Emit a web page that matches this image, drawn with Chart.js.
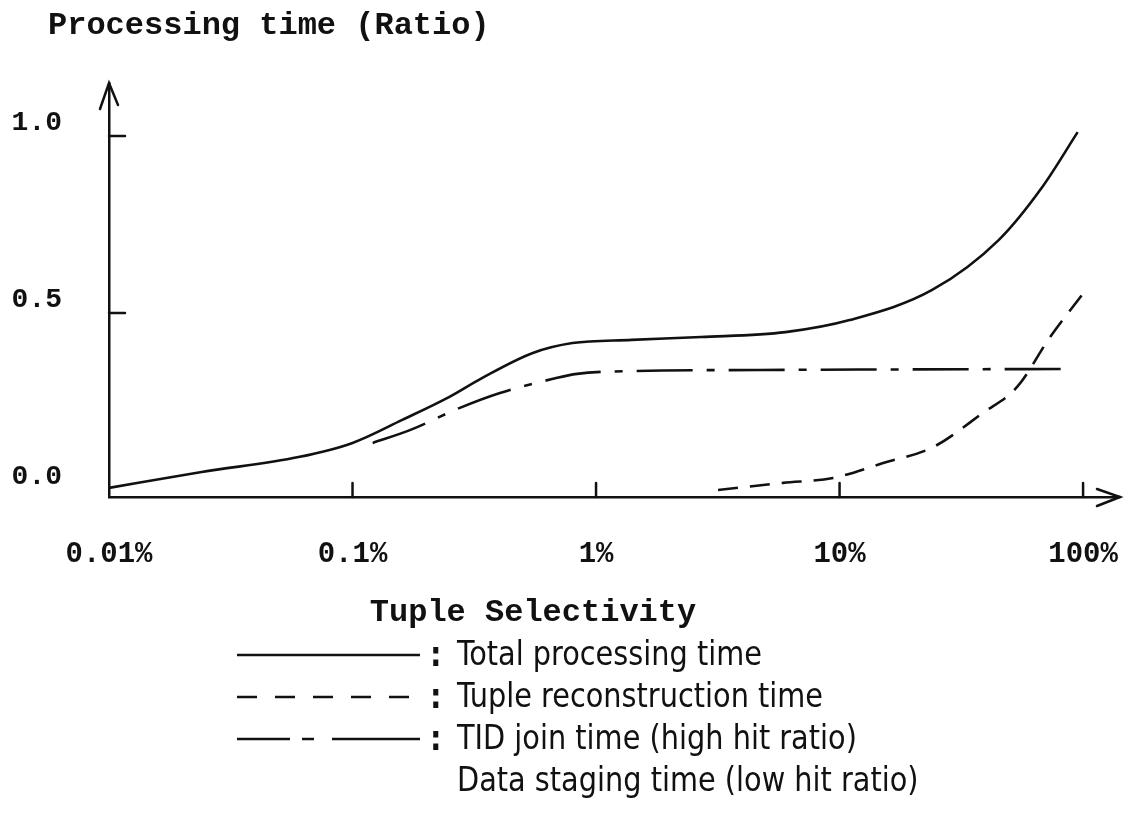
<!DOCTYPE html>
<html>
<head>
<meta charset="utf-8">
<script src="https://cdn.jsdelivr.net/npm/chart.js@4.4.1/dist/chart.umd.min.js"></script>
<style>
  html, body { margin: 0; padding: 0; background: #fff; }
  #wrap { width: 1125px; height: 826px; }
</style>
</head>
<body>
<div id="wrap"><canvas id="c" width="1125" height="826"></canvas></div>
<script>
// ---- data (x = tuple selectivity in %, y = processing time ratio) ----
const totalX = [0.01, 0.024, 0.06, 0.1, 0.16, 0.25, 0.34, 0.55, 0.8, 1.4, 2.7, 6, 11, 24, 45, 68, 95];
const totalY = [0.006, 0.051, 0.093, 0.133, 0.198, 0.263, 0.316, 0.387, 0.415, 0.424, 0.432, 0.446, 0.480, 0.565, 0.706, 0.856, 1.011];

const tidX = [0.121, 0.172, 0.276, 0.403, 0.666, 0.835, 1.42, 4.7, 88.5];
const tidY = [0.133, 0.169, 0.232, 0.274, 0.314, 0.328, 0.336, 0.339, 0.342];

const reconX = [3.17, 5.86, 9.4, 15.1, 24.2, 38.8, 53.6, 73.2, 99];
const reconY = [0.0, 0.02, 0.034, 0.076, 0.121, 0.218, 0.291, 0.432, 0.551];

const xTicks = [0.01, 0.1, 1, 10, 100];
const xTickLabels = ['0.01%', '0.1%', '1%', '10%', '100%'];
const yTicks = [0, 0.5, 1.0];
const yTickLabels = ['0.0', '0.5', '1.0'];

const yTitle = 'Processing time (Ratio)';
const xTitle = 'Tuple Selectivity';
const legendLabels = [
  'Total processing time',
  'Tuple reconstruction time',
  'TID join time (high hit ratio)',
  'Data staging time (low hit ratio)'
];

const pts = (xs, ys) => xs.map((x, i) => ({ x: x, y: ys[i] }));

const MONO = '"Liberation Mono", "DejaVu Sans Mono", monospace';
const NARROW = '"DejaVu Sans Condensed", "Liberation Sans Narrow", "DejaVu Sans", sans-serif';

const dashTotal = [];
const dashRecon = [20, 12];
const dashTid = [56, 14, 8, 14];

const decor = {
  id: 'decor',
  afterDraw(chart) {
    const ctx = chart.ctx;
    const a = chart.chartArea;
    const xs = chart.scales.x, ys = chart.scales.y;
    ctx.save();
    ctx.strokeStyle = '#111';
    ctx.fillStyle = '#111';
    ctx.lineWidth = 2.5;
    ctx.lineCap = 'round';
    // inward y ticks
    [0.5, 1.0].forEach(v => {
      const py = ys.getPixelForValue(v);
      ctx.beginPath(); ctx.moveTo(a.left, py); ctx.lineTo(a.left + 16, py); ctx.stroke();
    });
    // upward x ticks
    [0.1, 1, 10, 100].forEach(v => {
      const px = xs.getPixelForValue(v);
      ctx.beginPath(); ctx.moveTo(px, a.bottom); ctx.lineTo(px, a.bottom - 14); ctx.stroke();
    });
    // y arrow
    ctx.beginPath();
    ctx.moveTo(a.left - 9, a.top + 26); ctx.lineTo(a.left, a.top); ctx.lineTo(a.left + 9, a.top + 22);
    ctx.stroke();
    // x arrow
    ctx.beginPath();
    ctx.moveTo(a.right, a.bottom); ctx.lineTo(a.right + 7, a.bottom); ctx.stroke();
    ctx.beginPath();
    ctx.moveTo(a.right - 16, a.bottom - 8); ctx.lineTo(a.right + 7, a.bottom); ctx.lineTo(a.right - 16, a.bottom + 9);
    ctx.stroke();

    // titles
    ctx.textBaseline = 'middle';
    ctx.textAlign = 'left';
    ctx.font = 'bold 32px ' + MONO;
    ctx.fillText(yTitle, 48, 26);
    ctx.textAlign = 'center';
    ctx.fillText(xTitle, 533, 613);

    // legend
    const rows = [655, 697, 739, 781];
    const lx0 = 237, lx1 = 420;
    ctx.lineWidth = 2.5;
    ctx.lineCap = 'butt';
    ctx.setLineDash(dashTotal);
    ctx.beginPath(); ctx.moveTo(lx0, rows[0]); ctx.lineTo(lx1, rows[0]); ctx.stroke();
    ctx.setLineDash([20, 18]);
    ctx.beginPath(); ctx.moveTo(lx0, rows[1]); ctx.lineTo(lx1, rows[1]); ctx.stroke();
    ctx.setLineDash([53, 12, 12, 18, 90]);
    ctx.beginPath(); ctx.moveTo(lx0, rows[2]); ctx.lineTo(lx1, rows[2]); ctx.stroke();
    ctx.setLineDash([]);

    ctx.textAlign = 'left';
    ctx.font = '34px ' + NARROW;
    const sx = 305 / ctx.measureText(legendLabels[0]).width;
    for (let i = 0; i < 4; i++) {
      if (i < 3) {
        ctx.save(); ctx.translate(430, rows[i] + 2); ctx.scale(sx, 1);
        ctx.font = 'bold 34px ' + NARROW;
        ctx.fillText(':', 0, 0); ctx.restore();
      }
      ctx.save();
      ctx.translate(457, rows[i] + 1);
      ctx.scale(sx, 1);
      ctx.fillText(legendLabels[i], 0, 0);
      ctx.restore();
    }
    ctx.restore();
  }
};

new Chart(document.getElementById('c'), {
  type: 'line',
  data: {
    datasets: [
      { label: legendLabels[0], data: pts(totalX, totalY), borderColor: '#111', borderWidth: 2.6,
        borderDash: dashTotal, pointRadius: 0, cubicInterpolationMode: 'monotone', fill: false },
      { label: legendLabels[1], data: pts(reconX, reconY), borderColor: '#111', borderWidth: 2.6,
        borderDash: dashRecon, pointRadius: 0, cubicInterpolationMode: 'monotone', fill: false },
      { label: legendLabels[2], data: pts(tidX, tidY), borderColor: '#111', borderWidth: 2.6,
        borderDash: dashTid, pointRadius: 0, cubicInterpolationMode: 'monotone', fill: false }
    ]
  },
  options: {
    responsive: false,
    devicePixelRatio: 1,
    animation: false,
    layout: { padding: { top: 83, right: 12, left: 0, bottom: 0 } },
    plugins: { legend: { display: false }, tooltip: { enabled: false }, title: { display: false } },
    scales: {
      x: {
        type: 'logarithmic',
        min: 0.01,
        max: 132.7,
        afterBuildTicks: s => { s.ticks = xTicks.map(v => ({ value: v })); },
        afterFit: s => { s.height = 329; s.paddingLeft = 0; s.paddingRight = 0; },
        grid: { display: true, drawOnChartArea: false, drawTicks: false },
        border: { display: true, color: '#111', width: 2.5 },
        ticks: {
          autoSkip: false, maxRotation: 0, minRotation: 0, padding: 40,
          color: '#111', font: { family: MONO, size: 29, weight: 'bold' },
          callback: (v, i) => xTickLabels[i]
        }
      },
      y: {
        type: 'linear',
        min: -0.0198,
        max: 1.1497,
        afterBuildTicks: s => { s.ticks = yTicks.map(v => ({ value: v })); },
        afterFit: s => { s.width = 109; s.paddingTop = 0; s.paddingBottom = 0; },
        grid: { display: true, drawOnChartArea: false, drawTicks: false },
        border: { display: true, color: '#111', width: 2.5 },
        ticks: {
          padding: 47, labelOffset: -13,
          color: '#111', font: { family: MONO, size: 28, weight: 'bold' },
          callback: (v, i) => yTickLabels[i]
        }
      }
    }
  },
  plugins: [decor]
});
</script>
</body>
</html>
